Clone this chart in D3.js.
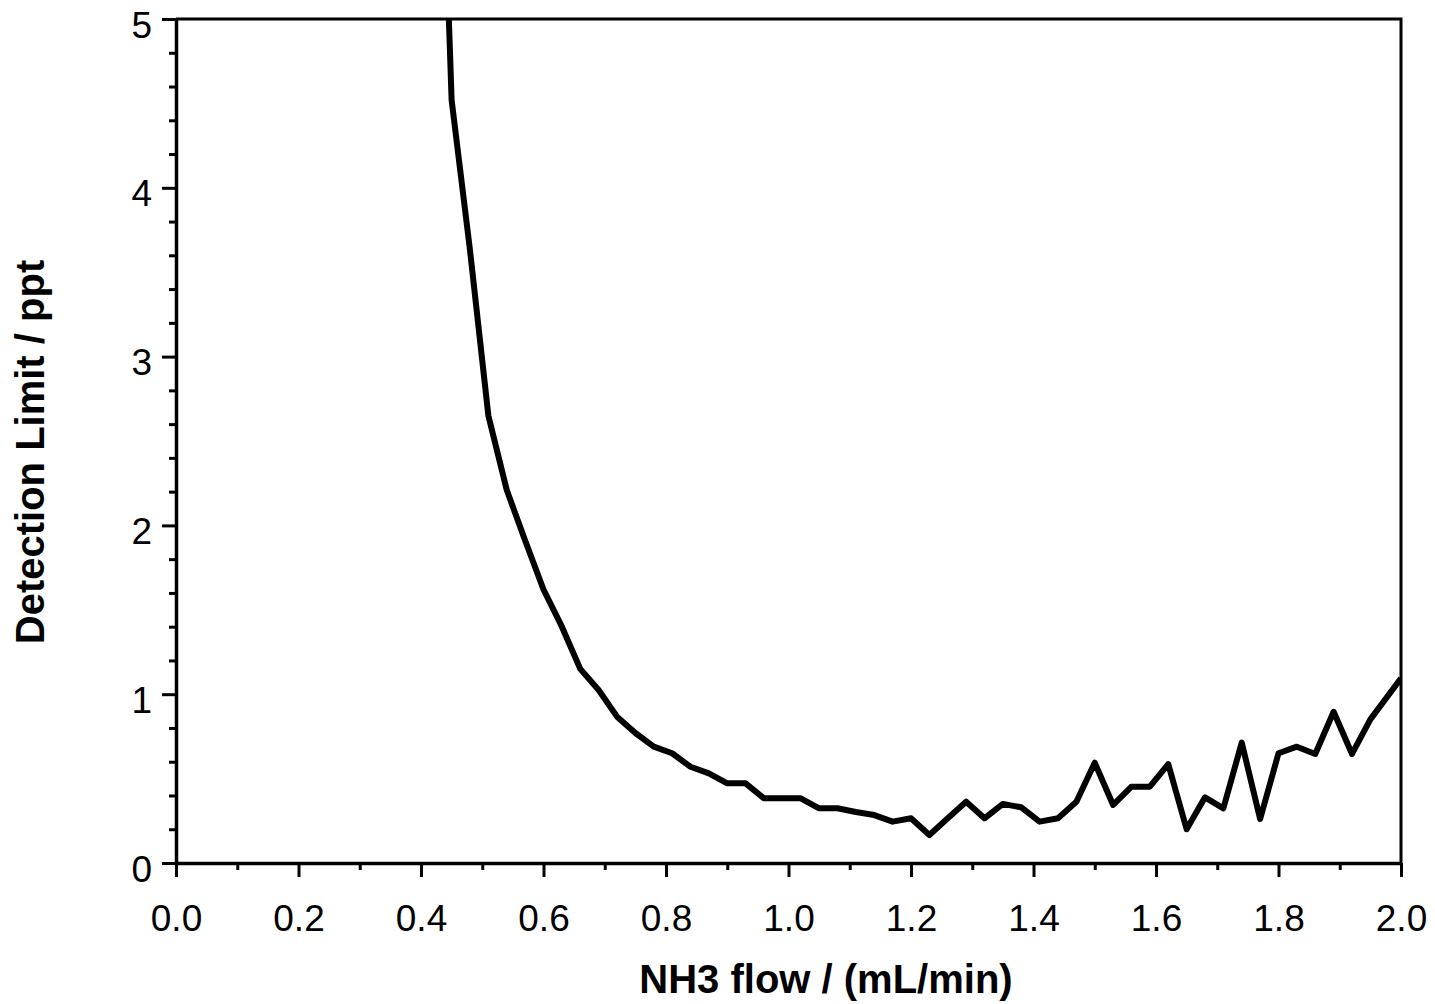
<!DOCTYPE html>
<html>
<head>
<meta charset="utf-8">
<script src="https://cdn.jsdelivr.net/npm/d3@7"></script>
<style>
  body { margin: 0; background: #fff; }
  text { font-family: "Liberation Sans", Arial, Helvetica, sans-serif; fill: #000; }
  .axis path, .axis line { stroke: #000; }
</style>
</head>
<body>
<div id="chart"></div>
<script>
// NH3 flow (mL/min) vs detection limit (ppt)
var flow = [0.42, 0.45, 0.48, 0.51, 0.54, 0.57, 0.60, 0.63, 0.66, 0.69, 0.72, 0.75, 0.78, 0.81, 0.84, 0.87,
            0.90, 0.93, 0.96, 0.99, 1.02, 1.05, 1.08, 1.11, 1.14, 1.17, 1.20, 1.23, 1.26, 1.29, 1.32, 1.35,
            1.38, 1.41, 1.44, 1.47, 1.50, 1.53, 1.56, 1.59, 1.62, 1.65, 1.68, 1.71, 1.74, 1.77, 1.80, 1.83,
            1.86, 1.89, 1.92, 1.95, 2.00];
var detLimit = [7.7, 4.52, 3.63, 2.65, 2.21, 1.91, 1.62, 1.40, 1.15, 1.025, 0.867, 0.77, 0.689, 0.65, 0.57, 0.531,
                0.472, 0.472, 0.383, 0.383, 0.383, 0.324, 0.324, 0.302, 0.284, 0.245, 0.265, 0.166, 0.265, 0.363, 0.265, 0.35,
                0.33, 0.245, 0.265, 0.363, 0.594, 0.344, 0.452, 0.452, 0.586, 0.20, 0.389, 0.324, 0.713, 0.261, 0.65, 0.689,
                0.646, 0.896, 0.646, 0.851, 1.094];

var xMajor = [0, 0.2, 0.4, 0.6, 0.8, 1.0, 1.2, 1.4, 1.6, 1.8, 2.0];
var xMinor = [0.1, 0.3, 0.5, 0.7, 0.9, 1.1, 1.3, 1.5, 1.7, 1.9];
var yMajor = [0, 1, 2, 3, 4, 5];
var yMinor = [0.2, 0.4, 0.6, 0.8, 1.2, 1.4, 1.6, 1.8, 2.2, 2.4, 2.6, 2.8,
              3.2, 3.4, 3.6, 3.8, 4.2, 4.4, 4.6, 4.8];

var width = 1435, height = 1004;
var margin = {left: 176, top: 19, right: 34, bottom: 141};
var w = width - margin.left - margin.right,
    h = height - margin.top - margin.bottom;

var svg = d3.select("#chart").append("svg")
    .attr("width", width)
    .attr("height", height);

var g = svg.append("g")
    .attr("transform", "translate(" + margin.left + "," + margin.top + ")");

var xScale = d3.scaleLinear().domain([0, 2]).range([0, w]);
var yScale = d3.scaleLinear().domain([0, 5]).range([h, 0]);

// clip so the curve stops at the top frame
g.append("clipPath").attr("id", "clip")
  .append("rect").attr("width", w).attr("height", h);

// frame (top + right)
g.append("path")
    .attr("d", "M0,0H" + w + "V" + h)
    .attr("fill", "none")
    .attr("stroke", "#000")
    .attr("stroke-width", 3);

// minor ticks
g.append("g")
    .attr("class", "axis")
    .attr("transform", "translate(0," + h + ")")
    .call(d3.axisBottom(xScale).tickValues(xMinor).tickSize(7).tickFormat(""))
    .call(function(a) { a.select(".domain").remove(); a.selectAll("line").attr("stroke-width", 3); });

g.append("g")
    .attr("class", "axis")
    .call(d3.axisLeft(yScale).tickValues(yMinor).tickSize(7).tickFormat(""))
    .call(function(a) { a.select(".domain").remove(); a.selectAll("line").attr("stroke-width", 3); });

// major x axis
var xAxis = g.append("g")
    .attr("class", "axis")
    .attr("transform", "translate(0," + h + ")")
    .call(d3.axisBottom(xScale).tickValues(xMajor).tickSize(14).tickSizeOuter(0).tickFormat(d3.format(".1f")));
xAxis.select(".domain").attr("stroke-width", 3.5);
xAxis.selectAll("line").attr("stroke-width", 3);
xAxis.selectAll("text")
    .attr("y", 68).attr("dy", null)
    .style("font-size", "37px");

// major y axis
var yAxis = g.append("g")
    .attr("class", "axis")
    .call(d3.axisLeft(yScale).tickValues(yMajor).tickSize(14).tickSizeOuter(0).tickFormat(d3.format("d")));
yAxis.select(".domain").attr("stroke-width", 3.5);
yAxis.selectAll("line").attr("stroke-width", 3);
yAxis.selectAll("text")
    .attr("x", -24).attr("dy", "18px")
    .style("font-size", "37px");

// the curve
var line = d3.line()
    .x(function(d, i) { return xScale(flow[i]); })
    .y(function(d) { return yScale(d); });

g.append("path")
    .datum(detLimit)
    .attr("clip-path", "url(#clip)")
    .attr("fill", "none")
    .attr("stroke", "#000")
    .attr("stroke-width", 6)
    .attr("stroke-linejoin", "round")
    .attr("d", line);

// axis titles
svg.append("text")
    .attr("x", 826)
    .attr("y", 993)
    .attr("text-anchor", "middle")
    .style("font-size", "40px")
    .style("font-weight", "bold")
    .text("NH3 flow / (mL/min)");

svg.append("text")
    .attr("transform", "translate(44,452) rotate(-90)")
    .attr("text-anchor", "middle")
    .style("font-size", "40px")
    .style("font-weight", "bold")
    .text("Detection Limit / ppt");
</script>
</body>
</html>
